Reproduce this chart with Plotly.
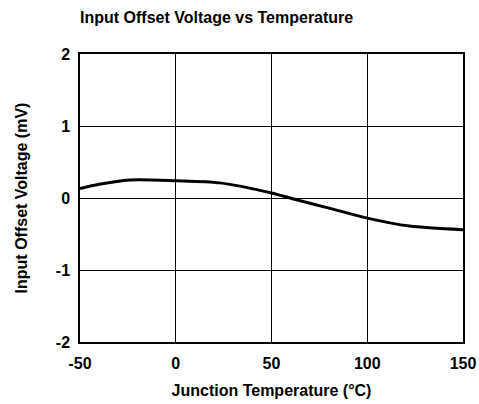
import plotly.graph_objects as go

# Junction temperature (°C) and input offset voltage (mV)
temp_c = [-50, -40, -24, 0, 23, 50, 61, 80, 100, 122, 150]
vos_mv = [0.13, 0.19, 0.25, 0.24, 0.21, 0.07, -0.01, -0.14, -0.28, -0.39, -0.44]

x_ticks = [-50, 0, 50, 100, 150]
y_ticks = [-2, -1, 0, 1, 2]

font_family = "Liberation Sans, Arial, sans-serif"

fig = go.Figure()
fig.add_trace(go.Scatter(
    x=temp_c, y=vos_mv, mode="lines",
    line=dict(color="black", width=3, shape="spline", smoothing=0.8),
    showlegend=False, hoverinfo="skip",
))

axis_common = dict(
    showgrid=True, gridcolor="black", gridwidth=1,
    showline=True, linecolor="black", linewidth=1.5, mirror=True,
    zeroline=False, ticks="", automargin=False,
    tickfont=dict(family=font_family, size=16, color="black", weight="bold"),
)

fig.update_layout(
    width=479, height=404,
    margin=dict(l=80, r=16, t=54, b=62),
    paper_bgcolor="white", plot_bgcolor="white",
    title=dict(
        text="<b>Input Offset Voltage vs Temperature</b>",
        x=80 / 479, xanchor="left", y=1 - 17 / 404, yanchor="middle",
        font=dict(family=font_family, size=16, color="black"),
    ),
    xaxis=dict(
        range=[-50, 150], tickvals=x_ticks, ticktext=[str(v) for v in x_ticks],
        ticklabelstandoff=6,
        title=dict(text="<b>Junction Temperature (°C)</b>", standoff=14,
                   font=dict(family=font_family, size=16, color="black")),
        **axis_common,
    ),
    yaxis=dict(
        range=[-2, 2], tickvals=y_ticks, ticktext=[str(v) for v in y_ticks],
        ticklabelstandoff=5,
        title=dict(text="<b>Input Offset Voltage (mV)</b>", standoff=24,
                   font=dict(family=font_family, size=16, color="black")),
        **axis_common,
    ),
)

fig.write_html("out.html")
